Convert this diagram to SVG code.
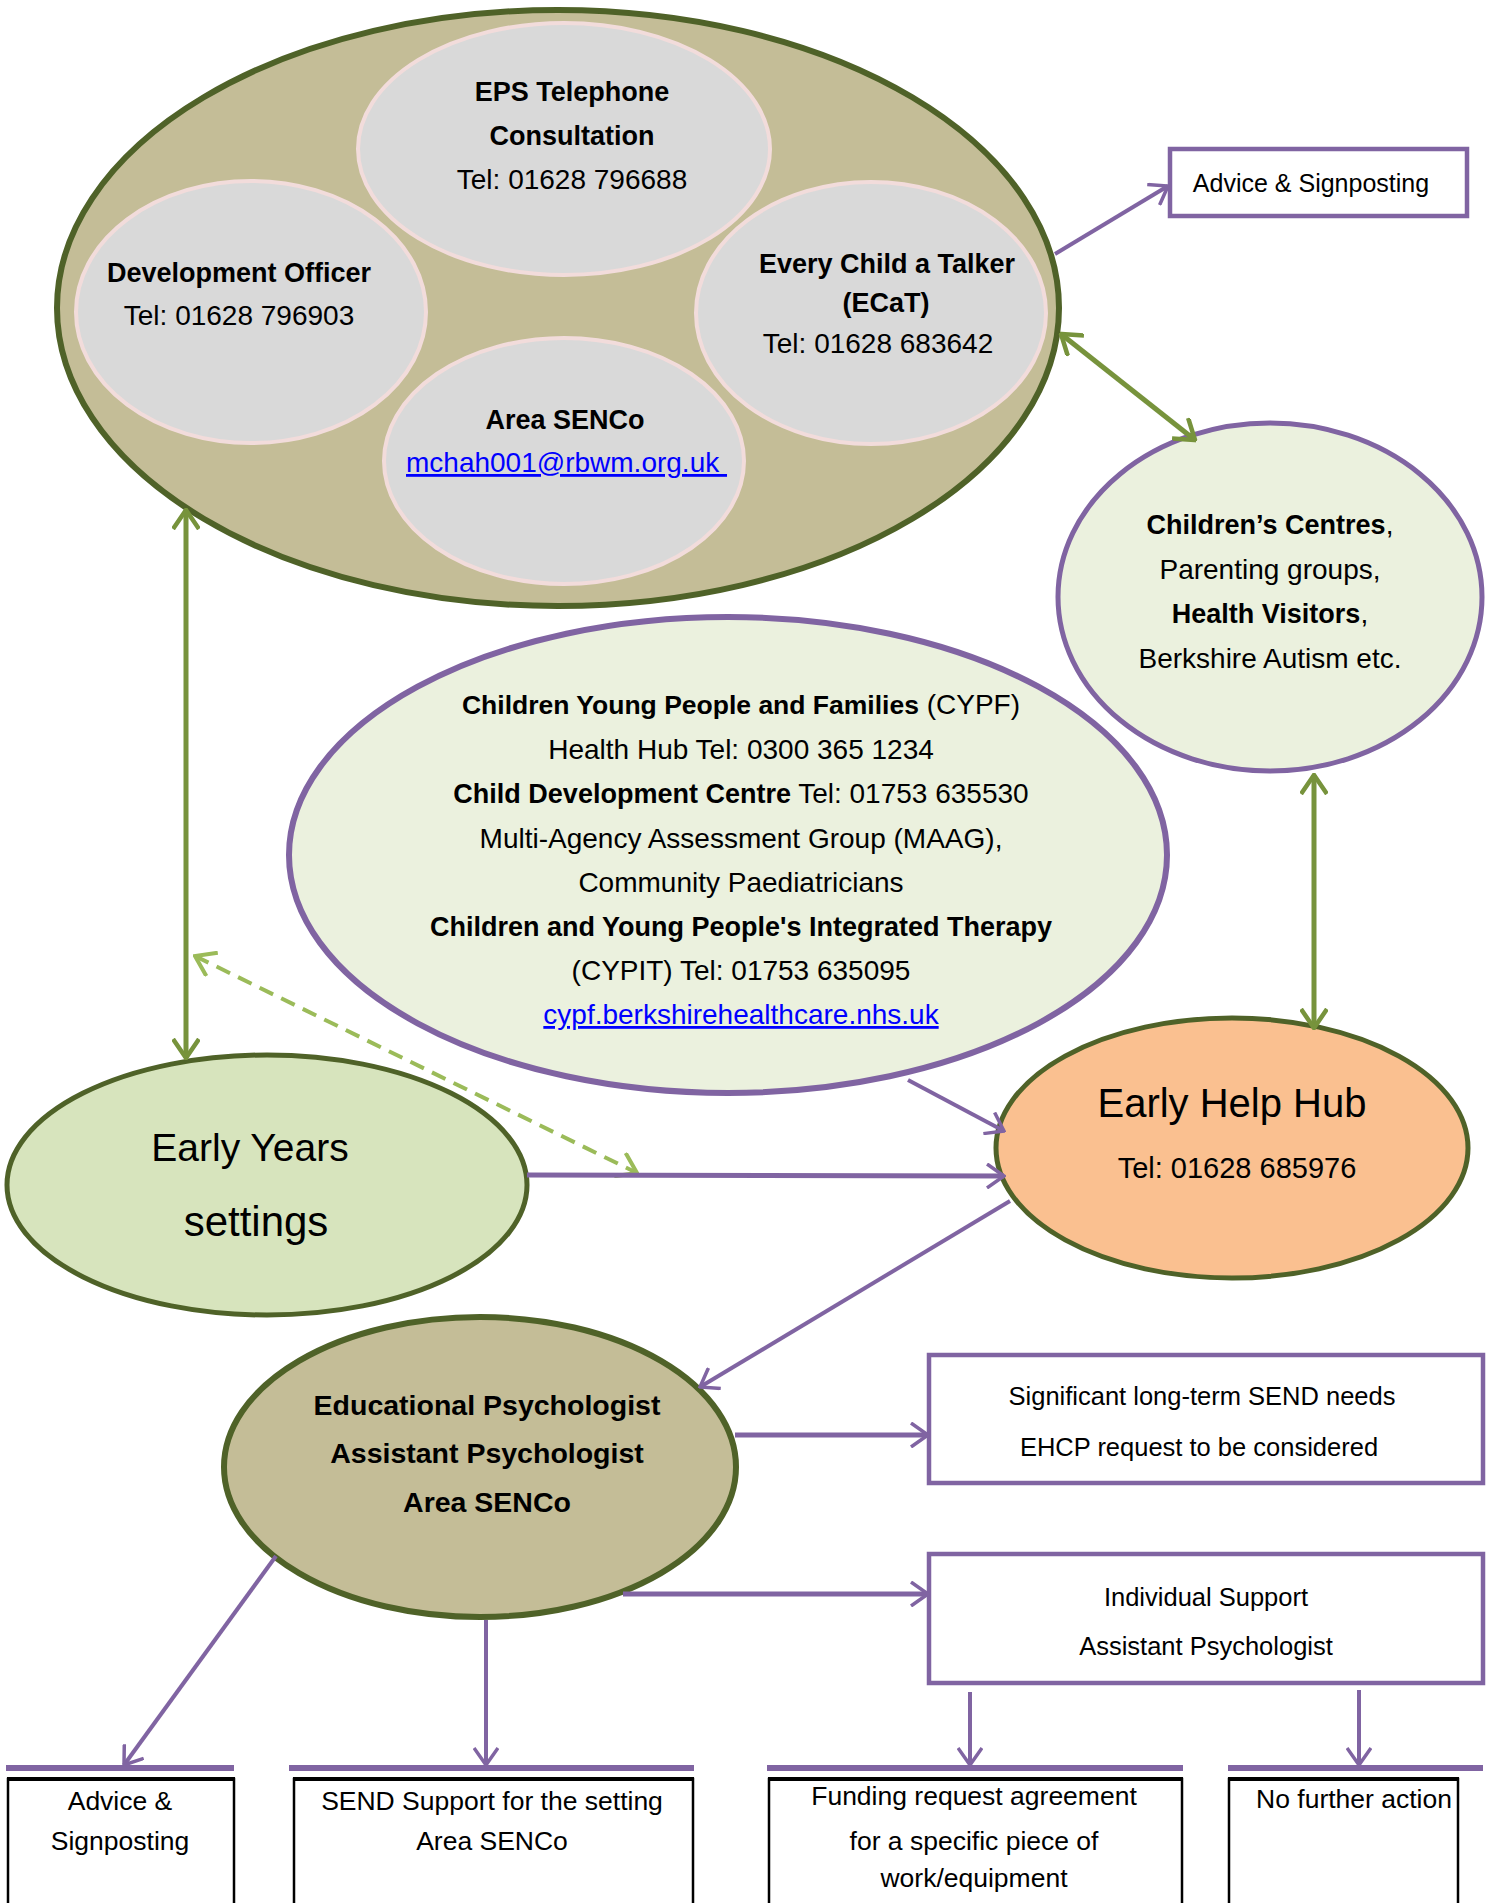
<svg xmlns="http://www.w3.org/2000/svg" width="1490" height="1903" viewBox="0 0 1490 1903">
<style>
.t{font-family:'Liberation Sans',Arial,sans-serif;fill:#000;text-anchor:middle}
.b{font-weight:bold}
.r{font-size:28px}
.rb{font-size:27px;font-weight:bold}
.olive{stroke:#4f6228;stroke-width:6}
.inner{fill:#d9d9d9;stroke:#f2dcdb;stroke-width:4}
.pur{fill:#ebf1de;stroke:#8064a2;stroke-width:6}
.box{fill:#fff;stroke:#8064a2;stroke-width:4.5}
.bbox{fill:#fff;stroke:#000;stroke-width:2.5}
.bar{stroke:#8064a2;stroke-width:6}
.cp{fill:none;stroke:#8064a2;stroke-width:4}
.cg{fill:none;stroke:#77933c;stroke-width:5}
.cd{fill:none;stroke:#9bbb59;stroke-width:4;stroke-dasharray:15 9}
.link{fill:#0000ff;text-decoration:underline}
</style>
<defs>
<marker id="ap" viewBox="0 0 20 26" refX="18" refY="13" markerWidth="20" markerHeight="26" orient="auto-start-reverse" markerUnits="userSpaceOnUse"><path d="M1,1 L18,13 L1,25" fill="none" stroke="#8064a2" stroke-width="3.5"/></marker>
<marker id="ag" viewBox="0 0 22 28" refX="20" refY="14" markerWidth="22" markerHeight="28" orient="auto-start-reverse" markerUnits="userSpaceOnUse"><path d="M1,1 L20,14 L1,27" fill="none" stroke="#77933c" stroke-width="4.5"/></marker>
<marker id="ad" viewBox="0 0 22 28" refX="20" refY="14" markerWidth="22" markerHeight="28" orient="auto-start-reverse" markerUnits="userSpaceOnUse"><path d="M1,1 L20,14 L1,27" fill="none" stroke="#9bbb59" stroke-width="4"/></marker>
</defs>
<rect width="1490" height="1903" fill="#fff"/>

<g id="top-cluster">
<ellipse cx="558" cy="308" rx="501" ry="298" fill="#c4bd97" class="olive"/>
<g id="eps">
<ellipse cx="564" cy="149" rx="206" ry="126" class="inner"/>
<text class="t rb" x="572" y="101">EPS Telephone</text>
<text class="t rb" x="572" y="145">Consultation</text>
<text class="t r" x="572" y="189">Tel: 01628 796688</text>
</g>
<g id="dev-officer">
<ellipse cx="251" cy="312" rx="175" ry="131" class="inner"/>
<text class="t rb" x="239" y="282">Development Officer</text>
<text class="t r" x="239" y="325">Tel: 01628 796903</text>
</g>
<g id="ecat">
<ellipse cx="871" cy="313" rx="175" ry="131" class="inner"/>
<text class="t rb" x="887" y="273">Every Child a Talker</text>
<text class="t rb" x="886" y="312">(ECaT)</text>
<text class="t r" x="878" y="353">Tel: 01628 683642</text>
</g>
<g id="area-senco-top">
<ellipse cx="564" cy="461" rx="180" ry="123" class="inner"/>
<text class="t rb" x="565" y="429">Area SENCo</text>
<text class="t r link" x="406" y="472" style="text-anchor:start">mchah001@rbwm.org.uk&#160;</text>
</g>
</g>

<g id="advice-top">
<rect x="1170" y="149" width="297" height="67" class="box"/>
<text class="t" x="1311" y="192" font-size="25">Advice &amp; Signposting</text>
</g>

<g id="childrens-centres">
<ellipse cx="1270" cy="597" rx="212" ry="174" class="pur" style="stroke-width:5"/>
<text class="t r" x="1270" y="534"><tspan class="b" font-size="27">Children’s Centres</tspan>,</text>
<text class="t r" x="1270" y="579">Parenting groups,</text>
<text class="t r" x="1270" y="623"><tspan class="b" font-size="27">Health Visitors</tspan>,</text>
<text class="t r" x="1270" y="668">Berkshire Autism etc.</text>
</g>

<g id="cypf">
<ellipse cx="728" cy="855" rx="439" ry="238" class="pur"/>
<text class="t r" x="741" y="714"><tspan class="b" font-size="26.5">Children Young People and Families</tspan> (CYPF)</text>
<text class="t r" x="741" y="759">Health Hub Tel: 0300 365 1234</text>
<text class="t r" x="741" y="803"><tspan class="b" font-size="27">Child Development Centre</tspan> Tel: 01753 635530</text>
<text class="t r" x="741" y="848">Multi-Agency Assessment Group (MAAG),</text>
<text class="t r" x="741" y="892">Community Paediatricians</text>
<text class="t rb" x="741" y="936">Children and Young People's Integrated Therapy</text>
<text class="t r" x="741" y="980">(CYPIT) Tel: 01753 635095</text>
<text class="t r link" x="741" y="1024">cypf.berkshirehealthcare.nhs.uk</text>
</g>

<g id="early-help-hub">
<ellipse cx="1232" cy="1148" rx="236" ry="130" fill="#fac090" class="olive" style="stroke-width:5"/>
<text class="t" x="1232" y="1117" font-size="40">Early Help Hub</text>
<text class="t" x="1237" y="1178" font-size="29">Tel: 01628 685976</text>
</g>

<g id="early-years">
<ellipse cx="267" cy="1185" rx="260" ry="130" fill="#d7e4bd" class="olive" style="stroke-width:5"/>
<text class="t" x="250" y="1161" font-size="39">Early Years</text>
<text class="t" x="256" y="1236" font-size="42">settings</text>
</g>

<g id="ep">
<ellipse cx="480" cy="1467" rx="256" ry="150" fill="#c4bd97" class="olive"/>
<text class="t b" x="487" y="1415" font-size="28.5">Educational Psychologist</text>
<text class="t b" x="487" y="1463" font-size="28.5">Assistant Psychologist</text>
<text class="t b" x="487" y="1512" font-size="28.5">Area SENCo</text>
</g>

<g id="send-needs">
<rect x="929" y="1355" width="554" height="128" class="box"/>
<text class="t" x="1202" y="1405" font-size="25.5">Significant long-term SEND needs</text>
<text class="t" x="1199" y="1456" font-size="25.5">EHCP request to be considered</text>
</g>

<g id="individual-support">
<rect x="929" y="1554" width="554" height="129" class="box"/>
<text class="t" x="1206" y="1606" font-size="25.5">Individual Support</text>
<text class="t" x="1206" y="1655" font-size="25.5">Assistant Psychologist</text>
</g>

<g id="advice-bottom">
<line x1="6" y1="1768" x2="234" y2="1768" class="bar"/>
<rect x="8" y="1779" width="226" height="160" class="bbox"/>
<line x1="7" y1="1779" x2="235" y2="1779" stroke="#000" stroke-width="4"/>
<text class="t" x="120" y="1810" font-size="26.5">Advice &amp;</text>
<text class="t" x="120" y="1850" font-size="26.5">Signposting</text>
</g>

<g id="send-support">
<line x1="289" y1="1768" x2="694" y2="1768" class="bar"/>
<rect x="294" y="1779" width="399" height="160" class="bbox"/>
<line x1="293" y1="1779" x2="694" y2="1779" stroke="#000" stroke-width="4"/>
<text class="t" x="492" y="1810" font-size="26.5">SEND Support for the setting</text>
<text class="t" x="492" y="1850" font-size="26.5">Area SENCo</text>
</g>

<g id="funding">
<line x1="767" y1="1768" x2="1183" y2="1768" class="bar"/>
<rect x="769" y="1779" width="413" height="160" class="bbox"/>
<line x1="768" y1="1779" x2="1183" y2="1779" stroke="#000" stroke-width="4"/>
<text class="t" x="974" y="1805" font-size="26.5">Funding request agreement</text>
<text class="t" x="974" y="1850" font-size="26.5">for a specific piece of</text>
<text class="t" x="974" y="1887" font-size="26.5">work/equipment</text>
</g>

<g id="no-further-action">
<line x1="1228" y1="1768" x2="1483" y2="1768" class="bar"/>
<rect x="1229" y="1779" width="229" height="160" class="bbox"/>
<line x1="1228" y1="1779" x2="1459" y2="1779" stroke="#000" stroke-width="4"/>
<text class="t" x="1354" y="1808" font-size="26.5">No further action</text>
</g>

<g id="connectors">
<line x1="1055" y1="254" x2="1168" y2="186" class="cp" marker-end="url(#ap)"/>
<line x1="1061" y1="334" x2="1195" y2="440" class="cg" marker-start="url(#ag)" marker-end="url(#ag)"/>
<line x1="1314" y1="775" x2="1314" y2="1028" class="cg" marker-start="url(#ag)" marker-end="url(#ag)"/>
<line x1="186" y1="510" x2="186" y2="1058" class="cg" marker-start="url(#ag)" marker-end="url(#ag)"/>
<line x1="195" y1="956" x2="637" y2="1173" class="cd" marker-start="url(#ad)" marker-end="url(#ad)"/>
<line x1="908" y1="1080" x2="1004" y2="1131" class="cp" marker-end="url(#ap)"/>
<line x1="527" y1="1175" x2="1004" y2="1176" class="cp" style="stroke-width:5" marker-end="url(#ap)"/>
<line x1="1010" y1="1201" x2="700" y2="1387" class="cp" marker-end="url(#ap)"/>
<line x1="735" y1="1435" x2="928" y2="1435" class="cp" style="stroke-width:5" marker-end="url(#ap)"/>
<line x1="623" y1="1594" x2="928" y2="1594" class="cp" style="stroke-width:5" marker-end="url(#ap)"/>
<line x1="276" y1="1556" x2="124" y2="1765" class="cp" marker-end="url(#ap)"/>
<line x1="486" y1="1620" x2="486" y2="1765" class="cp" marker-end="url(#ap)"/>
<line x1="970" y1="1692" x2="970" y2="1765" class="cp" marker-end="url(#ap)"/>
<line x1="1359" y1="1690" x2="1359" y2="1765" class="cp" marker-end="url(#ap)"/>
</g>
</svg>
